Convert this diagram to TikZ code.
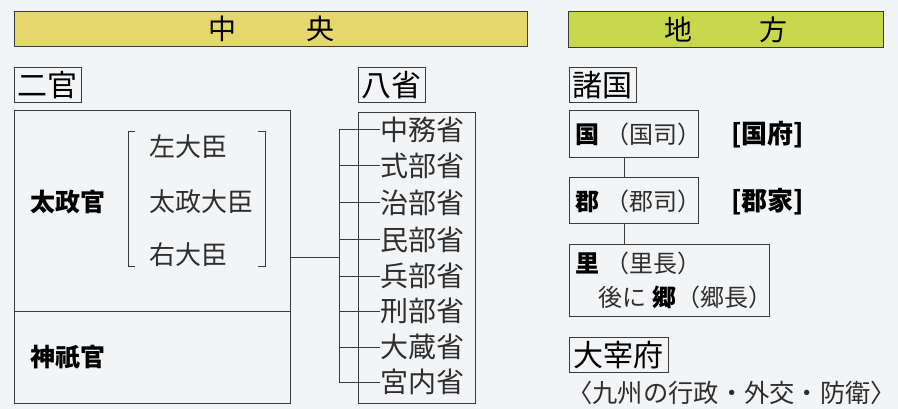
\documentclass[tikz,border=0pt]{standalone}
\usepackage{fontspec}
\newfontfamily\jp{Noto Sans CJK JP}
\definecolor{bgc}{HTML}{F3F4F6}
\definecolor{linec}{HTML}{3A3A3A}
\definecolor{hdyellow}{HTML}{E4D86C}
\definecolor{hdgreen}{HTML}{C7D84C}
\definecolor{lightt}{HTML}{2E2E2E}
\tikzset{
  fs/.style={font=\jp\fontsize{#1}{#1}\selectfont},
  hdr/.style={draw=linec, line width=1pt, anchor=north west, inner sep=0pt, fs=24},
  lbl/.style={draw=linec, line width=0.8pt, anchor=north west, inner sep=0pt, minimum height=35pt, fs=30, text=black},
  frame/.style={draw=linec, line width=0.8pt, anchor=north west, inner sep=0pt},
  light/.style={fs=25, text=lightt, inner sep=0pt},
  heavy/.style={fs=25, text=black, inner sep=0pt, font=\jp\bfseries\fontsize{25}{25}\selectfont},
  conn/.style={draw=linec, line width=1pt},
}
\begin{document}
\begin{tikzpicture}[x=1pt,y=-1pt]
\fill[bgc] (0,0) rectangle (898,409);
\useasboundingbox (0,0) rectangle (898,409);
% headers
\node[hdr, fill=hdyellow, minimum width=513pt, minimum height=35pt] (chuo) at (14,11) {};
\node[fs=28] (chuot) at (chuo.center) {中\hspace{70pt}央};
\node[hdr, fill=hdgreen, minimum width=315pt, minimum height=36pt] (chiho) at (568,11) {};
\node[fs=28] (chihot) at (chiho.center) {地\hspace{68pt}方};
% labels
\node[lbl, minimum width=67pt] (nikan) at (14,67) {二官};
\node[lbl, minimum width=67pt] (hassho) at (358,67) {八省};
\node[lbl, minimum width=67pt] (shokoku) at (569,67) {諸国};
\node[lbl, minimum width=99pt] (dazaifu) at (569,337) {大宰府};
% left box
\node[frame, minimum width=276pt, minimum height=293pt] (nbox) at (14,110) {};
\draw[conn, line width=0.8pt] (nbox.west |- 0,311) -- (nbox.east |- 0,311);
\node[heavy, anchor=west] (dajokan) at (30,202) {太政官};
\node[heavy, anchor=west] (jingikan) at (30,357) {神祇官};
\node[light, fs=26, anchor=west] (sadaijin) at (149,147) {左大臣};
\node[light, fs=26, anchor=west] (daijo) at (149,202) {太政大臣};
\node[light, fs=26, anchor=west] (udaijin) at (149,255) {右大臣};
\draw[conn, line width=0.8pt] (135,131) -- (128,131) -- (128,266) -- (135,266);
\draw[conn, line width=0.8pt] (258,131) -- (265,131) -- (265,266) -- (258,266);
% eight ministries
\node[frame, minimum width=117pt, minimum height=291pt] (hbox) at (358,112) {};
\coordinate (junc) at (339,258);
\draw[conn] (nbox.east |- junc) -- (junc);
\coordinate (vtop) at (339,130);
\coordinate (vbot) at (339,382);
\draw[conn] (vtop) -- (vbot);
\foreach \n/\t/\y in {m1/中務省/130, m2/式部省/166, m3/治部省/203, m4/民部省/240, m5/兵部省/276, m6/刑部省/311, m7/大蔵省/347, m8/宮内省/382}{
  \node[light, fs=28, anchor=west] (\n) at (380,\y) {\t};
  \draw[conn] (vtop |- \n.west) -- (\n.west);
}
% provinces
\node[frame, minimum width=129pt, minimum height=47pt] (kuni) at (569,110) {};
\node[anchor=west, inner sep=0pt] (kunit) at (575,134) {{\jp\bfseries\fontsize{24}{24}\selectfont 国}\hspace{6pt}{\jp\fontsize{24}{24}\selectfont\color{lightt}（国司）}};
\node[frame, minimum width=129pt, minimum height=46pt] (gun) at (569,177) {};
\node[anchor=west, inner sep=0pt] (gunt) at (575,201) {{\jp\bfseries\fontsize{24}{24}\selectfont 郡}\hspace{6pt}{\jp\fontsize{24}{24}\selectfont\color{lightt}（郡司）}};
\node[frame, minimum width=200pt, minimum height=72pt] (sato) at (569,244) {};
\node[anchor=west, inner sep=0pt] (satot1) at (575,263) {{\jp\bfseries\fontsize{24}{24}\selectfont 里}\hspace{6pt}{\jp\fontsize{24}{24}\selectfont\color{lightt}（里長）}};
\node[anchor=west, inner sep=0pt] (satot2) at (598,297) {{\jp\fontsize{24}{24}\selectfont\color{lightt}後に}\hspace{6pt}{\jp\bfseries\fontsize{24}{24}\selectfont 郷}{\jp\fontsize{24}{24}\selectfont\color{lightt}（郷長）}};
\node[heavy, anchor=west, font=\jp\bfseries\fontsize{26}{26}\selectfont] (kokufu) at (731,135) {[国府]};
\node[heavy, anchor=west, font=\jp\bfseries\fontsize{26}{26}\selectfont] (gunke) at (731,202) {[郡家]};
\draw[conn] (kuni.south -| 624,0) -- (gun.north -| 624,0);
\draw[conn] (gun.south -| 624,0) -- (sato.north -| 624,0);
\node[light, fs=25.3, anchor=west] (kyushu) at (567,393) {〈九州の行政・外交・防衛〉};
\end{tikzpicture}
\end{document}
